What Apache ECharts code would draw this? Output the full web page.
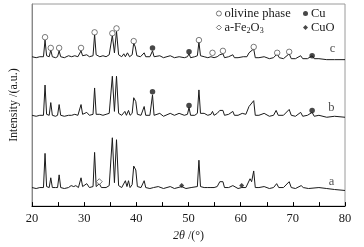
<!DOCTYPE html>
<html>
<head>
<meta charset="utf-8">
<script src="https://cdn.jsdelivr.net/npm/echarts@6/dist/echarts.min.js"></script>
<style>
  html, body { margin: 0; padding: 0; background: #fff; }
  #main { width: 364px; height: 247px; }
</style>
</head>
<body>
<div id="main"></div>
<script>
// 2θ tick labels
var xTicks = [20, 30, 40, 50, 60, 70, 80];

// traces [2θ, intensity] (stacked, arbitrary units)
var traceA = [[20,19],[20.8,18],[21.5,19],[22.2,19],[22.5,54],[22.8,20],[23.3,19],[23.6,29],[23.9,19],[24.5,19],[24.9,19],[25.2,32],[25.5,19],[26.2,18],[27,19],[27.5,21],[28,20],[28.4,21],[28.9,19],[29.4,29],[29.7,20],[30.5,23],[31,19],[31.7,20],[32,55],[32.3,20],[32.9,23],[33.3,19],[34.2,19],[34.8,21],[35.4,70],[35.8,24],[36.2,68],[36.6,21],[37.2,19],[37.9,26],[38.2,20],[38.5,26],[38.8,19],[39.2,22],[39.5,41],[39.9,37],[40.2,20],[40.9,19],[41.5,26],[41.8,19],[42.6,18],[43.3,19],[44.2,20],[45.2,18],[46.5,20],[47.3,18],[48.7,20],[49.5,18],[50.5,19],[51.7,20],[52,47],[52.3,20],[53,19],[53.7,19],[54.3,19],[54.6,21],[54.9,19],[55.5,20],[56,25],[56.3,23],[56.6,25],[56.9,19],[57.7,19],[58.5,21],[58.8,19],[59.5,18],[60.2,19],[61,19],[61.8,28],[62.1,25],[62.5,36],[62.8,19],[63.5,19],[64.5,20],[65.5,18],[66.3,19],[66.9,23],[67.3,19],[68.2,19],[69.3,25],[69.7,19],[70.5,18],[71.6,21],[72,19],[73,18],[75,19],[76.5,18],[78,17],[80,16]];
var traceB = [[20,93],[20.8,92],[21.5,93],[22.2,93],[22.5,124],[22.8,94],[23.3,93],[23.6,106],[23.9,93],[24.5,92],[24.9,93],[25.2,104],[25.5,93],[26.2,92],[27,93],[27.6,93],[28.2,94],[28.8,93],[29.4,104],[29.7,94],[30.5,96],[31,93],[31.7,94],[32,121],[32.3,94],[33,94],[33.6,93],[34.2,94],[34.8,95],[35.4,133],[35.8,97],[36.2,133],[36.6,95],[37.2,93],[37.8,97],[38.1,93],[38.5,98],[38.8,93],[39.2,95],[39.5,111],[39.9,107],[40.2,94],[40.9,93],[41.5,102],[41.8,93],[42.6,93],[43.1,114],[43.4,93],[44.5,95],[45.2,92],[46.5,95],[47.3,93],[48.2,95],[49.2,93],[49.8,94],[50.1,101],[50.4,93],[51.2,93],[51.7,95],[52,119],[52.3,95],[53,95],[53.7,93],[54.3,94],[54.6,97],[54.9,93],[55.5,95],[56,98],[56.3,96],[56.6,98],[56.9,93],[57.7,94],[58.5,97],[58.8,93],[59.5,93],[60.3,95],[61,94],[61.6,102],[61.9,100],[62.5,108],[62.8,93],[63.5,93],[64.5,95],[65.5,92],[66.3,93],[66.8,98],[67.2,93],[68.2,93],[69.3,99],[69.7,93],[70.5,92],[71.5,96],[71.9,92],[72.8,93],[73.7,96],[74.1,92],[75,93],[76.5,91],[78,92],[80,91]];
var traceC = [[20,153],[20.8,152],[21.5,153],[22.2,153],[22.5,170],[22.8,154],[23.3,153],[23.6,160],[23.9,153],[24.5,152],[24.9,153],[25.2,159],[25.5,153],[26.2,152],[27,154],[27.6,153],[28.2,154],[28.8,153],[29.4,159],[29.7,154],[30.5,155],[31,153],[31.7,154],[32,176],[32.3,155],[33,153],[33.6,154],[34.2,153],[34.8,155],[35.4,175],[35.8,157],[36.2,179],[36.6,155],[37.2,153],[37.6,156],[37.9,153],[38.3,157],[38.7,153],[39.2,155],[39.5,167],[39.8,163],[40.1,154],[40.8,153],[41.5,157],[41.8,153],[42.6,153],[43.1,159],[43.4,153],[44.5,154],[45.2,152],[46.5,154],[47.3,152],[48.2,153],[49.2,152],[49.8,153],[50.1,156],[50.4,152],[51.2,153],[51.7,154],[52,168],[52.3,154],[53,153],[53.7,152],[54.3,153],[54.6,155],[54.9,152],[55.5,153],[56,155],[56.3,154],[56.6,156],[56.9,152],[57.7,153],[58.5,155],[58.8,152],[59.5,152],[60.5,153],[61.2,153],[61.6,157],[61.9,155],[62.5,161],[62.8,152],[63.5,152],[64.5,153],[65.5,151],[66.3,152],[67,156],[67.4,152],[68.2,151],[69.3,156],[69.7,151],[70.5,151],[71.5,154],[71.9,151],[72.8,151],[73.7,154],[74.1,151],[75,151],[76.5,150],[78,150],[80,150]];

// phase markers
var olivinePts = [[22.5,173],[23.6,162],[25.2,162],[29.4,162],[32.0,178],[35.4,177],[36.2,182],[39.5,169],[52.0,170],[54.6,157],[56.6,159],[62.5,163],[67.0,157],[69.3,158]];
var fe2o3Pts = [[32.9,25]];
var cuPts = [[43.1,162],[50.1,158],[73.7,154],[43.1,117],[50.1,103],[73.7,98]];
var cuoPts = [[48.7,21],[60.2,21]];

// sample labels
var sampleNames = ['a', 'b', 'c'];
var samplePos = [[77.4,25],[77.4,101],[77.6,161]];

var serif = 'Liberation Serif';
var ink = '#1a1a1a';

var chart = echarts.init(document.getElementById('main'));

function lineSeries(name, data) {
  return {
    name: name, type: 'line', data: data, showSymbol: false, silent: true,
    lineStyle: { color: ink, width: 1 }, z: 2
  };
}

var option = {
  animation: false,
  textStyle: { fontFamily: serif, color: ink },
  grid: {
    left: 29, right: 19, top: 4, bottom: 36,
    show: true, borderColor: '#9a9a9a', borderWidth: 1
  },
  legend: [
    {
      left: 211, top: 2, orient: 'vertical', itemGap: 1,
      itemWidth: 5, itemHeight: 5,
      textStyle: {
        fontFamily: serif, fontSize: 12.5, color: ink, padding: [0, 0, 0, -2],
        rich: {
          n: { fontFamily: serif, fontSize: 12.5, color: ink },
          s: { fontFamily: serif, fontSize: 8, color: ink, verticalAlign: 'bottom', padding: [6, 0, 0, 0] }
        }
      },
      formatter: function (n) {
        return n === 'Fe2O3' ? '{n|a-Fe}{s|2}{n|O}{s|3}' : n;
      },
      data: [
        { name: 'olivine phase', icon: 'circle', itemStyle: { color: '#fff', borderColor: '#333', borderWidth: 0.8 } },
        { name: 'Fe2O3', icon: 'diamond', itemStyle: { color: '#fff', borderColor: '#333', borderWidth: 0.8 } }
      ]
    },
    {
      left: 298, top: 2, orient: 'vertical', itemGap: 1,
      itemWidth: 5, itemHeight: 5,
      textStyle: { fontFamily: serif, fontSize: 12.5, color: ink, padding: [0, 0, 0, -2] },
      data: [
        { name: 'Cu', icon: 'circle', itemStyle: { color: ink } },
        { name: 'CuO', icon: 'diamond', itemStyle: { color: ink } }
      ]
    }
  ],
  xAxis: {
    type: 'value', min: xTicks[0], max: xTicks[xTicks.length - 1], interval: 10,
    name: '{i|2θ} /(°)', nameLocation: 'middle', nameGap: 20,
    nameTextStyle: {
      fontFamily: serif, fontSize: 12, color: ink,
      rich: { i: { fontFamily: serif, fontStyle: 'italic', fontSize: 12, color: ink } }
    },
    axisLine: { onZero: false, lineStyle: { color: '#000', width: 1 } },
    axisTick: { inside: true, length: 4, lineStyle: { color: '#000' } },
    minorTick: { show: true, splitNumber: 2, length: 4, lineStyle: { color: '#000' } },
    axisLabel: { margin: 6, fontFamily: serif, fontSize: 12.5, color: ink },
    splitLine: { show: false }
  },
  yAxis: {
    type: 'value', min: 0, max: 207,
    name: 'Intensity /(a.u.)', nameLocation: 'middle', nameGap: 12,
    nameTextStyle: { fontFamily: serif, fontSize: 12, color: ink },
    axisLine: { show: true, lineStyle: { color: '#888' } },
    axisTick: { show: false }, axisLabel: { show: false }, splitLine: { show: false }
  },
  series: [
    lineSeries('a', traceA),
    lineSeries('b', traceB),
    lineSeries('c', traceC),
    {
      name: 'olivine phase', type: 'scatter', data: olivinePts, symbol: 'circle', symbolSize: 5.5,
      itemStyle: { color: '#fff', borderColor: '#333', borderWidth: 0.8 }, z: 3
    },
    {
      name: 'Fe2O3', type: 'scatter', data: fe2o3Pts, symbol: 'diamond', symbolSize: 6,
      itemStyle: { color: '#fff', borderColor: '#333', borderWidth: 0.8 }, z: 3
    },
    {
      name: 'Cu', type: 'scatter', data: cuPts, symbol: 'circle', symbolSize: 5.5,
      itemStyle: { color: ink }, z: 3
    },
    {
      name: 'CuO', type: 'scatter', data: cuoPts, symbol: 'diamond', symbolSize: 5,
      itemStyle: { color: ink }, z: 3
    },
    {
      name: 'labels', type: 'scatter', symbolSize: 0, silent: true,
      data: samplePos.map(function (p, i) { return { value: p, name: sampleNames[i] }; }),
      label: {
        show: true, position: 'inside', formatter: '{b}',
        fontFamily: serif, fontSize: 12.5, color: ink
      }
    }
  ]
};

chart.setOption(option);
</script>
</body>
</html>
